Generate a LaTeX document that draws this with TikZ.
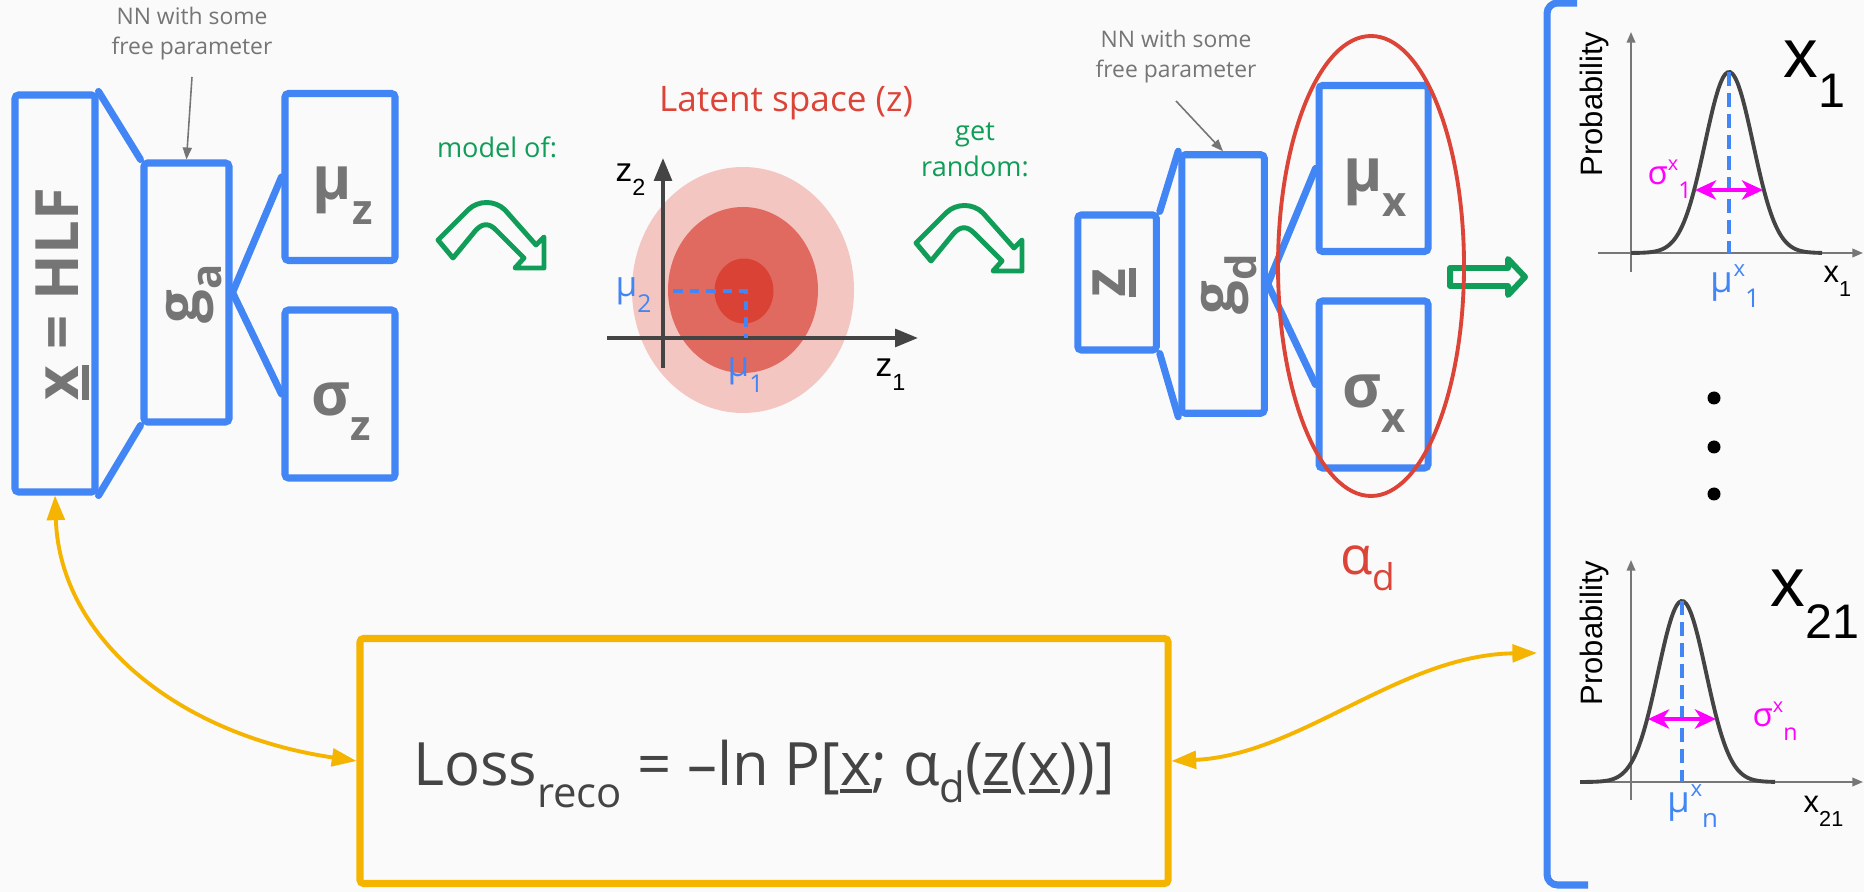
\documentclass[tikz,border=0pt]{standalone}
\usepackage{fontspec}
\usepackage{graphicx}
\setmainfont{Open Sans}
\newfontfamily\chartfont{Liberation Sans}
\usetikzlibrary{arrows.meta}
\definecolor{gblue}{HTML}{4285F4}
\definecolor{gred}{HTML}{DB4437}
\definecolor{ggreen}{HTML}{0F9D58}
\definecolor{gyellow}{HTML}{F4B400}
\definecolor{ggray}{HTML}{757575}
\definecolor{dgray}{HTML}{444444}
\definecolor{axgray}{HTML}{777777}
\definecolor{pinkA}{HTML}{F3C6C2}
\definecolor{pinkB}{HTML}{E16A60}
\definecolor{pinkC}{HTML}{DA4236}
\definecolor{bgcol}{HTML}{FAFAFA}
\definecolor{magent}{HTML}{FF00FF}
\newdimen\pxu \pxu=0.01cm
\newcommand{\lowtxt}[2][0.35em]{\raisebox{-#1}{\scalebox{0.7}{#2}}}
\newcommand{\hightxt}[2][0.45em]{\raisebox{#1}{\scalebox{0.6}{#2}}}
\newcommand{\thickul}[2][1.6pt]{\vtop{\hbox{#2}\kern1pt\hrule height #1}}
\tikzset{bendarrow/.pic={
  \draw[ggreen, line width=1.4pt, line join=round, fill=bgcol] (0,0) -- (30,-30)
    .. controls (40,-40) and (57,-40) .. (67,-30) -- (98,5) -- (106,-3) -- (106,28)
    -- (77,28) -- (86,18) -- (58,-10) .. controls (51,-17) and (45,-17) .. (38,-10)
    -- (15,18) -- cycle;}}
\begin{document}
\begin{tikzpicture}[x=0.01cm, y=-0.01cm,
  bbox/.style={draw=gblue, line width=2pt, rounded corners=1pt, inner sep=0pt},
  blbl/.style={text=ggray, font=\fontsize{17pt}{20pt}\selectfont\bfseries, inner sep=0pt},
  funnel/.style={gblue, line width=2pt, line cap=round},
  nntxt/.style={text=ggray, font=\fontsize{6.5pt}{8.8pt}\selectfont, align=center, inner sep=0pt},
  nnarrow/.style={ggray, line width=0.45pt, -{Triangle[length=3.4pt,width=2.6pt]}},
  gtxt/.style={text=ggreen, font=\fontsize{7.7pt}{10.5pt}\selectfont, align=center, inner sep=0pt},
  yarrow/.style={gyellow, line width=1.1pt, {Triangle[length=7pt,width=5pt]}-{Triangle[length=7pt,width=5pt]}},
  zaxis/.style={dgray, line width=1.1pt, -{Triangle[length=6.5pt,width=5pt]}},
  paxis/.style={axgray, line width=0.55pt, -{Triangle[length=3pt,width=2.4pt]}},
  gauss/.style={dgray, line width=1.1pt},
  mudash/.style={gblue, line width=1pt, dash pattern=on 4pt off 2pt},
  sigarrow/.style={magent, line width=1.1pt, {Stealth[length=6pt,width=5.5pt,inset=1.8pt]}-{Stealth[length=6pt,width=5.5pt,inset=1.8pt]}},
  ctxt/.style={inner sep=0pt, font=\chartfont\fontsize{8.8pt}{10pt}\selectfont},
  bigx/.style={inner sep=0pt, font=\chartfont\fontsize{19.7pt}{22pt}\selectfont}]
\useasboundingbox (0,0) rectangle (1864,892);
\fill[bgcol] (0,0) rectangle (1864,892);

% encoder
\node[bbox, minimum width=80\pxu, minimum height=397\pxu] (xbox) at (55,293.5) {};
\node[bbox, minimum width=85\pxu, minimum height=259\pxu] (ga) at (186.5,292.5) {};
\node[bbox, minimum width=110\pxu, minimum height=167\pxu] (muz) at (340,177) {};
\node[bbox, minimum width=110\pxu, minimum height=168\pxu] (sigz) at (340,394) {};
\draw[funnel] (xbox.north east) -- (ga.north west);
\draw[funnel] (xbox.south east) -- (ga.south west);
\draw[funnel] (ga.east) -- (muz.west);
\draw[funnel] (ga.east) -- (sigz.west);
\node[blbl, rotate=90] (xlbl) at (62,294) {\thickul[2pt]{x} = HLF};
\node[blbl, rotate=90] (galbl) at (194.5,293.5) {g\lowtxt[0.37em]{a}};
\node[blbl] (muzlbl) at (342.5,196) {μ\lowtxt[0.42em]{z}};
\node[blbl] (sigzlbl) at (341,411.5) {σ\lowtxt[0.42em]{z}};
\node[nntxt, anchor=base] (nnl) at (192,55) {NN with some\\free parameter};
\coordinate (nnltail) at (192,77);
\draw[nnarrow] (nnltail) -- (ga.north);

% model of
\node[gtxt, anchor=base] (modelof) at (497,158) {model of:};
\pic at (438,240) {bendarrow};

% latent space
\node[text=gred, font=\fontsize{10pt}{12pt}\selectfont, inner sep=0pt, anchor=base] (latent) at (786,112) {Latent space (z)};
\fill[pinkA] (743,290) ellipse [x radius=111, y radius=123];
\fill[pinkB] (743,290) ellipse [x radius=75, y radius=83];
\fill[pinkC] (744,291) ellipse [x radius=29.5, y radius=32.5];
\draw[zaxis] (607,338) -- (918,338);
\draw[zaxis] (663,368) -- (663,158);
\draw[gblue, line width=0.9pt, dash pattern=on 2.8pt off 1.9pt] (673,291) -- (746,291) -- (746,338);
\node[ctxt, font=\chartfont\fontsize{9.5pt}{11pt}\selectfont, anchor=base west] (z2) at (615,182) {z\lowtxt[0.4em]{2}};
\node[ctxt, font=\chartfont\fontsize{9.5pt}{11pt}\selectfont, anchor=base west] (z1) at (875,377) {z\lowtxt[0.4em]{1}};
\node[text=gblue, inner sep=0pt, font=\fontsize{10pt}{12pt}\selectfont, anchor=base west] (mu2) at (615,297) {μ\lowtxt[0.43em]{2}};
\node[text=gblue, inner sep=0pt, font=\fontsize{10pt}{12pt}\selectfont, anchor=base west] (mu1) at (727,377) {μ\lowtxt[0.43em]{1}};

% get random
\node[gtxt, anchor=base] (getr) at (975,177) {get\\random:};
\pic at (916,243) {bendarrow};

% decoder
\node[bbox, minimum width=78.5\pxu, minimum height=135\pxu] (zbox) at (1117,282.5) {};
\node[bbox, minimum width=82.5\pxu, minimum height=258.5\pxu] (gd) at (1223,284) {};
\node[bbox, minimum width=109\pxu, minimum height=166\pxu] (mux) at (1373.5,168.5) {};
\node[bbox, minimum width=109\pxu, minimum height=167\pxu] (sigx) at (1373.5,384.5) {};
\draw[funnel] (zbox.north east) -- (gd.north west);
\draw[funnel] (zbox.south east) -- (gd.south west);
\draw[funnel] (gd.east) -- (mux.west);
\draw[funnel] (gd.east) -- (sigx.west);
\node[blbl, rotate=90] (zlbl) at (1114,282.5) {\thickul[2pt]{z}};
\node[blbl, rotate=90] (gdlbl) at (1229.5,284) {g\lowtxt[0.37em]{d}};
\node[blbl] (muxlbl) at (1375,187.5) {μ\lowtxt[0.42em]{x}};
\node[blbl] (sigxlbl) at (1374.5,404) {σ\lowtxt[0.42em]{x}};
\node[nntxt, anchor=base] (nnr) at (1176,78) {NN with some\\free parameter};
\coordinate (nnrtail) at (1176,101);
\draw[nnarrow] (nnrtail) -- (gd.north);

% output arrow and alpha_d
\draw[ggreen, line width=1.7pt, line join=round, fill=bgcol] (1450,268) -- (1508,268) -- (1508,259)
  -- (1525,277) -- (1508,295) -- (1508,286) -- (1450,286) -- cycle;
\draw[gred, line width=1.1pt] (1371,266) ellipse [x radius=93, y radius=230];
\node[text=gred, inner sep=0pt, font=\fontsize{15pt}{18pt}\selectfont] (alphad) at (1368,568) {α\lowtxt[0.3em]{d}};

% output distributions
\draw[gblue, line width=2pt, rounded corners=3pt] (1577,3) -- (1547,3) -- (1547,885) -- (1588,885);
\coordinate (brk) at (1537,653);
% x_1
\draw[paxis] (1631,272) -- (1631,32);
\draw[paxis] (1598,253) -- (1863,253);
\draw[gauss] plot[domain=1631:1822, samples=80, smooth] (\x,{253-181*exp(-((\x-1729)^2)/1152)});
\draw[mudash] (1729,72) -- (1729,253);
\draw[sigarrow] (1695,190) -- (1763,190);
\node[ctxt, rotate=90, anchor=base] (prob1) at (1602,104) {Probability};
\node[bigx, anchor=base west] (x1big) at (1783,78) {x\lowtxt[0.43em]{1}};
\node[ctxt, anchor=base west] (x1ax) at (1823,283) {x\lowtxt[0.45em]{1}};
\node[text=magent, inner sep=0pt, font=\fontsize{9.4pt}{11pt}\selectfont, anchor=base west] (sig1) at (1647,185) {σ\hightxt{x}\lowtxt[0.4em]{1}};
\node[text=gblue, inner sep=0pt, font=\fontsize{10.5pt}{12pt}\selectfont, anchor=base west] (mu1x) at (1710,293) {μ\hightxt{x}\lowtxt[0.4em]{1}};
% dots
\fill (1714,398) circle (6.5);
\fill (1714,447) circle (6.5);
\fill (1714,494) circle (6.5);
% x_21
\draw[paxis] (1631,800) -- (1631,560);
\draw[paxis] (1580,782) -- (1863,782);
\draw[gauss] plot[domain=1580:1775, samples=80, smooth] (\x,{782-181*exp(-((\x-1682)^2)/1152)});
\draw[mudash] (1682,601) -- (1682,782);
\draw[sigarrow] (1648,719) -- (1716,719);
\node[ctxt, rotate=90, anchor=base] (prob2) at (1602,633) {Probability};
\node[bigx, anchor=base west] (x21big) at (1770,607) {x\lowtxt[0.45em]{21}};
\node[ctxt, anchor=base west] (x21ax) at (1803,813) {x\lowtxt[0.45em]{21}};
\node[text=magent, inner sep=0pt, font=\fontsize{9.4pt}{11pt}\selectfont, anchor=base west] (sign) at (1752,727) {σ\hightxt{x}\lowtxt[0.4em]{n}};
\node[text=gblue, inner sep=0pt, font=\fontsize{10.5pt}{12pt}\selectfont, anchor=base west] (mun) at (1667,813) {μ\hightxt{x}\lowtxt[0.4em]{n}};

% loss
\node[draw=gyellow, line width=2pt, rounded corners=1pt, minimum width=808\pxu, minimum height=245\pxu, inner sep=0pt] (loss) at (764,761) {};
\node[text=dgray, inner sep=0pt, font=\fontsize{17pt}{20pt}\selectfont, anchor=base] (losstxt) at (764,785)
  {Loss\lowtxt[0.38em]{reco} = --ln P[\thickul[1.3pt]{x}; α\lowtxt[0.3em]{d}(\thickul[1.3pt]{z}(\thickul[1.3pt]{x}))]};
\draw[yarrow] (xbox.south) .. controls (60,640) and (180,735) .. (loss.west);
\draw[yarrow] (loss.east) .. controls (1300,755) and (1400,655) .. (brk);
\end{tikzpicture}
\end{document}
